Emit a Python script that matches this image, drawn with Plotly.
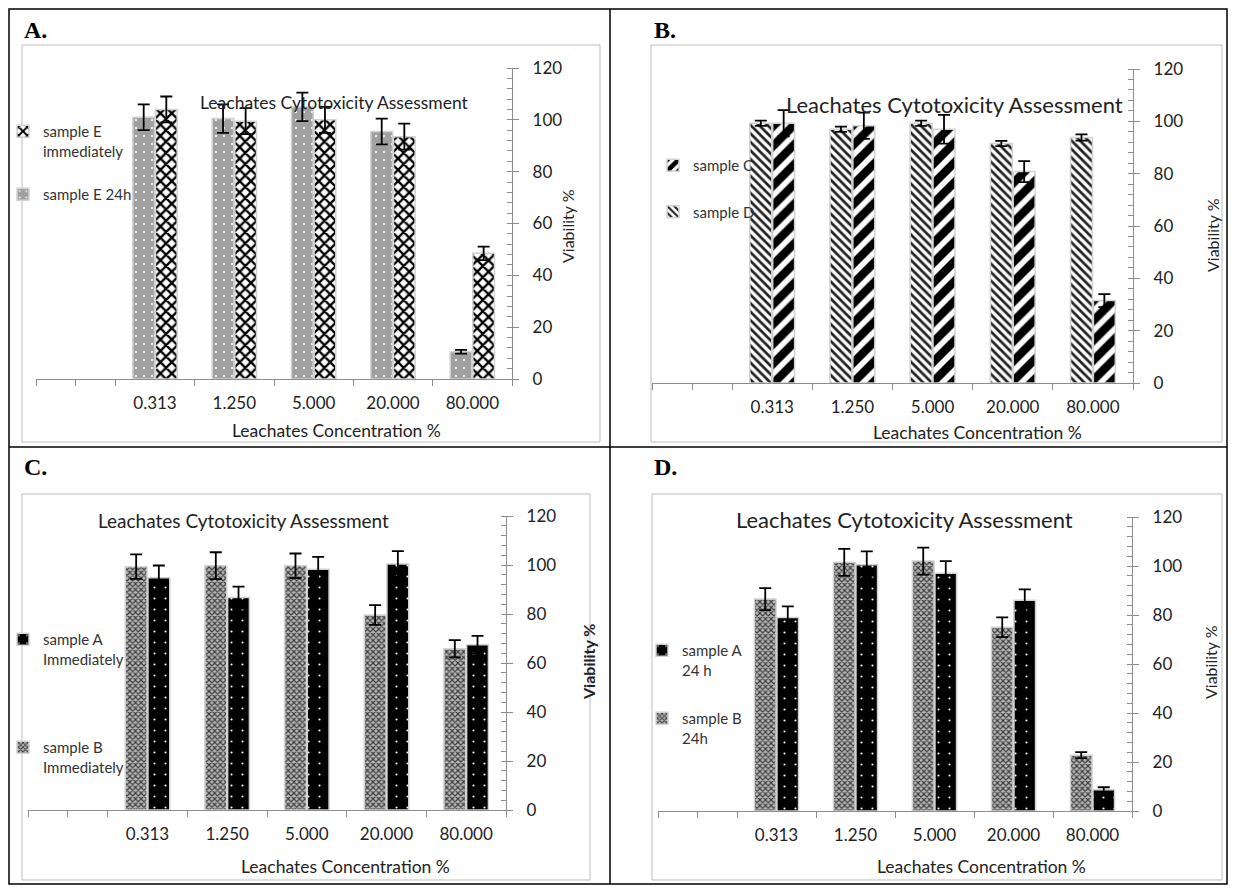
import plotly.graph_objects as go

W, H = 1236, 888

# ---------------- data ----------------
categories = ["0.313", "1.250", "5.000", "20.000", "80.000"]
y_ticks = [0, 20, 40, 60, 80, 100, 120]

# Panel A
a_e24h = [101, 100.5, 105, 95.5, 10.5]
a_e24h_err = [5, 5.5, 5.5, 5, 0.7]
a_eimm = [104, 99.5, 100, 93.5, 48.5]
a_eimm_err = [5, 5, 5, 5, 2.6]

# Panel B
b_d = [99.3, 97, 99.3, 91.5, 93.8]
b_d_err = [1, 1, 1, 1, 1.2]
b_c = [99.3, 98.3, 97, 80.8, 31.5]
b_c_err = [5, 5, 5.5, 4, 2.5]

# Panel C
c_b = [99.3, 99.7, 99.7, 79.6, 65.8]
c_b_err = [5, 5.5, 5, 4, 3.5]
c_a = [94.8, 86.7, 98.3, 100.4, 67.5]
c_a_err = [5, 4.5, 5, 5.3, 3.6]

# Panel D
d_b = [86.5, 101.5, 102, 75, 22.8]
d_b_err = [4.5, 5.5, 5.5, 4, 1.2]
d_a = [79, 100.5, 97, 86, 8.7]
d_a_err = [4.5, 5.5, 5, 4.5, 1]

# first slot on the category axis is empty
xpos = list(range(1, len(categories) + 1))
bounds = [-0.5, 0] + [i + 0.5 for i in range(len(categories) + 1)]

FONT = "Lato"
GREY = "#8c8c8c"


def px(x):
    return x / W


def py(y):
    return 1 - y / H


fig = go.Figure()


def add_bar(name, vals, errs, ax, legend, pattern, rank, color):
    fig.add_trace(go.Bar(
        x=xpos, y=vals, name=name,
        xaxis="x" + ax, yaxis="y" + ax, legend=legend, legendgroup=name + ax,
        legendrank=rank,
        marker=dict(color=color, line=dict(color="#d2d2d2", width=1.5), pattern=pattern),
        error_y=dict(type="data", array=errs, visible=True, color="black",
                     thickness=1.8, width=6),
    ))


pat_dots_grey = dict(shape=".", bgcolor="#a0a0a0", fgcolor="white", size=8, solidity=0.06, fgopacity=1)
pat_cross = dict(shape="x", bgcolor="white", fgcolor="black", size=8, solidity=0.5, fgopacity=1)
pat_fine_back = dict(shape="\\", bgcolor="white", fgcolor="#222222", size=6, solidity=0.45, fgopacity=1)
pat_bold_fwd = dict(shape="/", bgcolor="white", fgcolor="black", size=14, solidity=0.6, fgopacity=1)
pat_checker = dict(shape="x", bgcolor="#bababa", fgcolor="#3c3c3c", size=4, solidity=0.5, fgopacity=1)
pat_black_dots = dict(shape=".", bgcolor="black", fgcolor="white", size=11, solidity=0.03, fgopacity=1)

add_bar("sample E 24h", a_e24h, a_e24h_err, "", "legend", pat_dots_grey, 2, "#a0a0a0")
add_bar("sample E<br>immediately", a_eimm, a_eimm_err, "", "legend", pat_cross, 1, "black")
add_bar("sample D", b_d, b_d_err, "2", "legend2", pat_fine_back, 2, "#222222")
add_bar("sample C", b_c, b_c_err, "2", "legend2", pat_bold_fwd, 1, "black")
add_bar("sample B<br>Immediately", c_b, c_b_err, "3", "legend3", pat_checker, 2, "#bababa")
add_bar("sample A<br>Immediately", c_a, c_a_err, "3", "legend3", pat_black_dots, 1, "black")
add_bar("sample B<br>24h", d_b, d_b_err, "4", "legend4", pat_checker, 2, "#bababa")
add_bar("sample A<br>24 h", d_a, d_a_err, "4", "legend4", pat_black_dots, 1, "black")

# panel geometry in pixels: x-left, x-right, y of 0, y of 120
geo = {
    "": (36, 512, 379, 68),
    "2": (652, 1133, 383, 69),
    "3": (28, 506, 810, 516),
    "4": (658, 1132, 811, 517),
}

layout = dict(
    width=W, height=H, margin=dict(l=0, r=0, t=0, b=0, autoexpand=False),
    paper_bgcolor="white", plot_bgcolor="rgba(0,0,0,0)",
    barmode="group", bargap=0.43, bargroupgap=0.04,
    font=dict(family=FONT, color="#222222"),
)

for ax, (x0, x1, yb, yt) in geo.items():
    layout["xaxis" + ax] = dict(
        domain=[px(x0), px(x1)], anchor="y" + ax, range=[-0.5, 5.5],
        tickmode="array", tickvals=xpos, ticktext=categories, ticks="",
        showline=True, linecolor=GREY, linewidth=1.3, showgrid=False, zeroline=False,
        tickfont=dict(size=17, family=FONT, color="#222222"), ticklabelstandoff=8,
        minor=dict(tickmode="array", tickvals=bounds, ticks="outside", ticklen=6,
                   tickcolor=GREY, tickwidth=1.3),
        fixedrange=True, automargin=False,
    )
    layout["yaxis" + ax] = dict(
        domain=[py(yb), py(yt)], anchor="x" + ax, side="right", range=[0, 120],
        tickmode="array", tickvals=y_ticks, ticks="outside", ticklen=6,
        tickcolor=GREY, tickwidth=1.3,
        showline=True, linecolor=GREY, linewidth=1.3, showgrid=False, zeroline=False,
        tickfont=dict(size=17, family=FONT, color="#222222"), ticklabelstandoff=10,
        minor=dict(dtick=4, ticks="inside", ticklen=5, tickcolor=GREY, tickwidth=1),
        fixedrange=True, automargin=False,
    )

leg_common = dict(xanchor="left", yanchor="top", bgcolor="rgba(0,0,0,0)",
                  font=dict(size=15, family=FONT, color="#333333"),
                  traceorder="grouped", valign="top", itemwidth=30)
layout["legend"] = dict(x=px(3), y=py(115), tracegroupgap=21, **leg_common)
layout["legend2"] = dict(x=px(653), y=py(149), tracegroupgap=24, **leg_common)
layout["legend3"] = dict(x=px(3), y=py(623), tracegroupgap=66, **leg_common)
layout["legend4"] = dict(x=px(642), y=py(634), tracegroupgap=26, **leg_common)

fig.update_layout(**layout)

# ---------------- text ----------------
ann = []


def text(t, x, y, size, bold=False, angle=0, family=FONT, xanchor="center", color="#222222"):
    ann.append(dict(text=("<b>%s</b>" % t) if bold else t, x=px(x), y=py(y),
                    xref="paper", yref="paper", showarrow=False, textangle=angle,
                    xanchor=xanchor, yanchor="middle",
                    font=dict(size=size, family=family, color=color)))


title = "Leachates Cytotoxicity Assessment"
text(title, 334, 103, 17.5)
text(title, 955, 105, 22)
text(title, 243, 520, 19)
text(title, 904, 519, 22)

xt = "Leachates Concentration %"
text(xt, 336, 430, 17.5)
text(xt, 977, 433, 17.5)
text(xt, 345, 866, 17.5)
text(xt, 981, 866, 17.5)

text("Viability %", 568, 226, 16, angle=-90)
text("Viability %", 1212, 235, 16, angle=-90)
text("Viability %", 588, 662, 16, bold=True, angle=-90)
text("Viability %", 1210, 662, 16, angle=-90)

for lab, x, y in [("A.", 22, 30), ("B.", 652, 30), ("C.", 22, 467), ("D.", 652, 467)]:
    text(lab, x, y, 24, bold=True, family="Liberation Serif", xanchor="left", color="black")

fig.update_layout(annotations=ann)

# ---------------- frame lines ----------------
shapes = []


def line(x0, y0, x1, y1, color="black", width=1.5):
    shapes.append(dict(type="line", xref="paper", yref="paper",
                       x0=px(x0), y0=py(y0), x1=px(x1), y1=py(y1),
                       line=dict(color=color, width=width)))


def rect(x0, y0, x1, y1, color, width=1):
    shapes.append(dict(type="rect", xref="paper", yref="paper",
                       x0=px(x0), y0=py(y0), x1=px(x1), y1=py(y1),
                       line=dict(color=color, width=width), layer="below"))


rect(9, 9, 1227, 884, "black", 1.5)
line(9, 447, 1227, 447)
line(610, 9, 610, 884)
rect(22, 45, 600, 442, "#bdbdbd", 1)
rect(651, 45, 1222, 442, "#bdbdbd", 1)
rect(22, 494, 590, 880, "#bdbdbd", 1)
rect(652, 494, 1222, 880, "#bdbdbd", 1)

fig.update_layout(shapes=shapes)

fig.write_html("out.html", config={"displayModeBar": False},
               post_script="document.body.style.margin='0';")
